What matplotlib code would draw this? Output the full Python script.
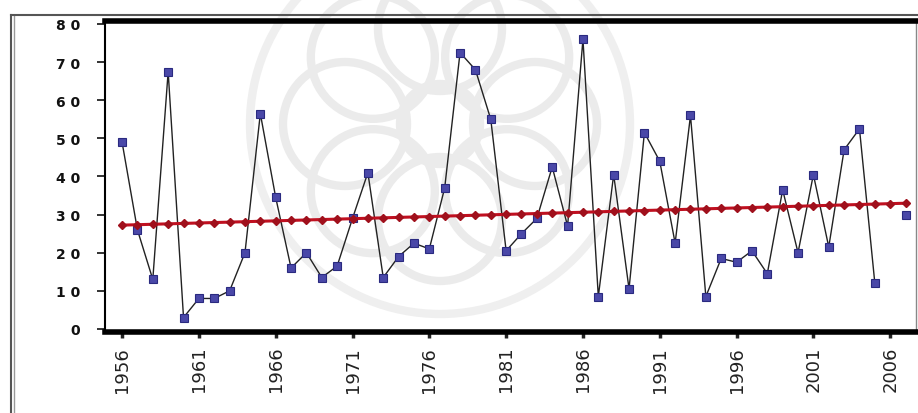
import numpy as np
import matplotlib.pyplot as plt
from matplotlib.lines import Line2D
from matplotlib.patches import Circle
from matplotlib.ticker import FuncFormatter

years = np.arange(1956, 2008)
values = [49, 26, 13, 67.5, 3, 8, 8, 10, 20, 56.5,
          34.5, 16, 20, 13.5, 16.5, 29, 41, 13.5, 19, 22.5,
          21, 37, 72.5, 68, 55, 20.5, 25, 29, 42.5, 27,
          76, 8.5, 40.5, 10.5, 51.5, 44, 22.5, 56, 8.5, 18.5,
          17.5, 20.5, 14.5, 36.5, 20, 40.5, 21.5, 47, 52.5, 12,
          np.nan, 30]
values = np.array(values, dtype=float)

# linear trend over the years with data
ok = ~np.isnan(values)
slope, intercept = np.polyfit(years[ok], values[ok], 1)
trend = slope * years + intercept

W, H = 918, 414
fig = plt.figure(figsize=(W / 100, H / 100), dpi=100)
ax = fig.add_axes([0.1144, 0.1957, 0.8836, 0.7512])
ax.patch.set_alpha(0)

# faint rosette watermark behind the plot
wm = fig.add_axes([0, 0, 1, 1], zorder=-1)
wm.set_xlim(0, W)
wm.set_ylim(H, 0)
wm.axis('off')
for k in range(8):
    a = np.pi * k / 4
    wm.add_patch(Circle((440 + 95 * np.cos(a), 125 + 95 * np.sin(a)), 62,
                        fill=False, ec='#ebebeb', lw=6))
wm.add_patch(Circle((440, 125), 40, fill=False, ec='#ebebeb', lw=6))
wm.add_patch(Circle((440, 125), 190, fill=False, ec='#efefef', lw=6))

ax.plot(years, values, color='#222222', lw=1.0, marker='s', ms=5.5,
        mfc='#4a48a8', mec='#2a2a80', mew=0.8, zorder=2)
ax.plot(years, trend, color='#c01020', lw=2.2, marker='D', ms=4.5,
        mfc='#a0101c', mec='#a0101c', zorder=3)

ax.set_xlim(1954.89, 2007.69)
ax.set_ylim(-0.79, 80.79)
ax.set_xticks(np.arange(1956, 2007, 5))
ax.set_yticks(np.arange(0, 81, 10))
ax.yaxis.set_major_formatter(FuncFormatter(lambda v, p: ' '.join(str(int(v)))))

for lab in ax.get_yticklabels():
    lab.set_fontweight('bold')
ax.tick_params(axis='y', labelsize=10, length=6, width=1.2, pad=12, colors='#111111')
ax.tick_params(axis='x', labelsize=13, length=4, width=2.5, pad=6,
               labelrotation=90, colors='#222222')

ax.spines['top'].set_linewidth(4)
ax.spines['bottom'].set_linewidth(4)
ax.spines['left'].set_linewidth(1.5)
ax.spines['right'].set_linewidth(1.0)
ax.spines['right'].set_color('#888888')

# outer frame around the chart
for x0, x1, y0, y1, c, w in [(11, 11, 16, 414, '#555555', 1.5),
                             (14, 14, 16, 414, '#999999', 1.0),
                             (11, 918, 16, 16, '#555555', 1.5)]:
    fig.add_artist(Line2D([x0 / W, x1 / W], [1 - y0 / H, 1 - y1 / H],
                          color=c, lw=w))

fig.savefig('out.png', dpi=100)
